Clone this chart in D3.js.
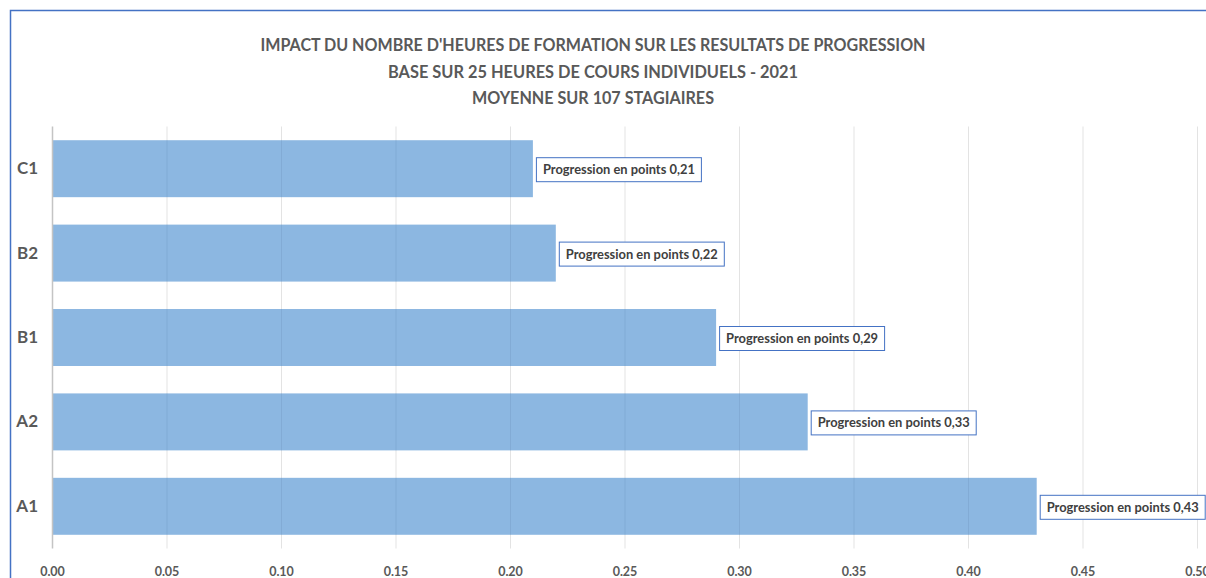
<!DOCTYPE html>
<html><head><meta charset="utf-8">
<script src="https://cdn.jsdelivr.net/npm/d3@7"></script>
<style>body{margin:0;background:#fff;}svg{display:block;}</style>
</head><body>
<svg id="chart" width="1206" height="578"></svg>
<script>
const categories = ["C1", "B2", "B1", "A2", "A1"];
const values = [0.21, 0.22, 0.29, 0.33, 0.43];
const labelPrefix = "Progression en points ";
const xTicks = [0, 0.05, 0.10, 0.15, 0.20, 0.25, 0.30, 0.35, 0.40, 0.45, 0.50];
const titleLines = [
  "IMPACT DU NOMBRE D'HEURES DE FORMATION SUR LES RESULTATS DE PROGRESSION",
  "BASE SUR 25 HEURES DE COURS INDIVIDUELS - 2021",
  "MOYENNE SUR 107 STAGIAIRES"
];

const svg = d3.select("#chart");
const font = "Lato, 'Open Sans', sans-serif";

// outer frame
svg.append("path").attr("d", "M10.5,578 V10.5 H1206").attr("fill", "none")
  .attr("stroke", "#4472C4").attr("stroke-width", 1.5);

const x = d3.scaleLinear().domain([0, 0.5]).range([52, 1197]);
const y = d3.scaleBand().domain(categories).range([126.5, 548.5]).paddingInner(0.325).paddingOuter(0.1625);

// title
svg.append("g").selectAll("text").data(titleLines).join("text")
  .attr("x", 593).attr("y", (d, i) => 51 + i * 26.5)
  .attr("text-anchor", "middle").attr("font-family", font).attr("font-weight", "bold")
  .attr("font-size", 16.5).attr("fill", "#595959")
  .attr("textLength", (d, i) => [665, 410, 242][i]).attr("lengthAdjust", "spacingAndGlyphs")
  .text(d => d);

// gridlines
svg.append("g").selectAll("line").data(xTicks.slice(1)).join("line")
  .attr("x1", d => x(d) + 0.5).attr("x2", d => x(d) + 0.5)
  .attr("y1", 126.5).attr("y2", 548.5)
  .attr("stroke", "#e3e3e3").attr("stroke-width", 1);

// bars
svg.append("g").selectAll("rect").data(categories).join("rect")
  .attr("x", x(0)).attr("y", d => y(d))
  .attr("width", (d, i) => x(values[i]) - x(0)).attr("height", y.bandwidth())
  .attr("fill", "#8cb7e1");

// faint gridlines visible through bars
const og = svg.append("g");
categories.forEach((c, i) => {
  og.selectAll(null).data(xTicks.slice(1).filter(t => t < values[i])).join("line")
    .attr("x1", d => x(d) + 0.5).attr("x2", d => x(d) + 0.5)
    .attr("y1", y(c)).attr("y2", y(c) + y.bandwidth())
    .attr("stroke", "rgba(60,90,130,0.12)").attr("stroke-width", 1);
});

// axis line
svg.append("line").attr("x1", x(0) + 0.5).attr("x2", x(0) + 0.5)
  .attr("y1", 126.5).attr("y2", 548.5).attr("stroke", "#c4c4c4").attr("stroke-width", 1.5);

// x axis labels
const xAxis = d3.axisBottom(x).tickValues(xTicks).tickFormat(d3.format(".2f")).tickSize(0).tickPadding(0);
const gx = svg.append("g").attr("transform", "translate(0,567)").call(xAxis);
gx.select(".domain").remove();
gx.selectAll("text").attr("font-family", font).attr("font-weight", "bold")
  .attr("font-size", 12.5).attr("fill", "#595959");

// y axis labels
const yAxis = d3.axisLeft(y).tickSize(0).tickPadding(0);
const gy = svg.append("g").attr("transform", "translate(38,0)").call(yAxis);
gy.select(".domain").remove();
gy.selectAll("text").attr("font-family", font).attr("font-weight", "bold")
  .attr("font-size", 17).attr("fill", "#595959");

// data labels
const lg = svg.append("g");
categories.forEach((c, i) => {
  const g = lg.append("g");
  const bx = x(values[i]) + 3.5;
  const cy = y(c) + y.bandwidth() / 2 + 1;
  g.append("rect").attr("x", bx).attr("y", cy - 12).attr("width", 165).attr("height", 24)
    .attr("fill", "#fff").attr("stroke", "#4472C4").attr("stroke-width", 1);
  g.append("text").attr("x", bx + 82.5).attr("y", cy).attr("dy", "0.35em")
    .attr("text-anchor", "middle").attr("font-family", font).attr("font-weight", "bold")
    .attr("font-size", 13).attr("fill", "#404040")
    .attr("textLength", 152).attr("lengthAdjust", "spacingAndGlyphs")
    .text(labelPrefix + d3.format(".2f")(values[i]).replace(".", ","));
});
</script>
</body></html>
